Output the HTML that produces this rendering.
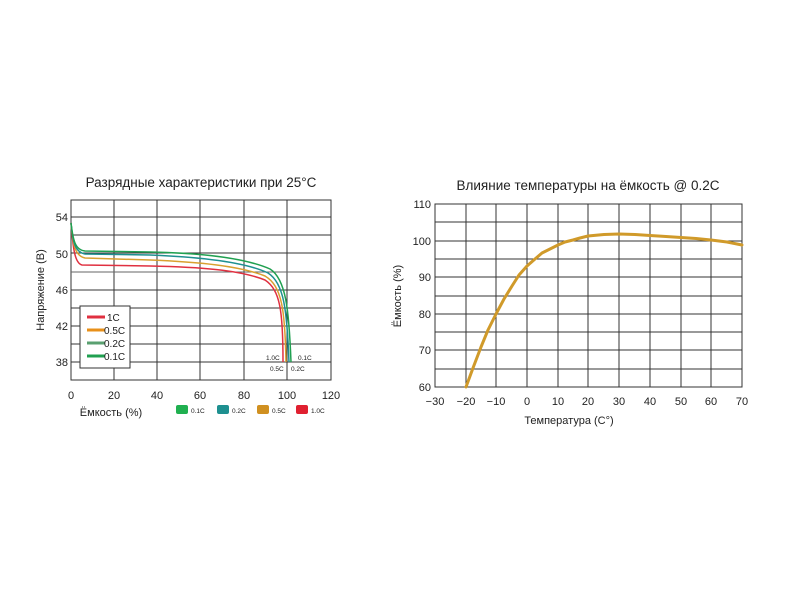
<!DOCTYPE html>
<html><head><meta charset="utf-8"><style>
body{margin:0;background:#fff;}
svg text{font-family:"Liberation Sans",sans-serif;fill:#222;}
</style></head><body>
<svg width="800" height="600" xmlns="http://www.w3.org/2000/svg">
<!-- LEFT CHART -->
<text x="201" y="187" font-size="13.5" text-anchor="middle">Разрядные характеристики при 25°C</text>
<g stroke="#333" stroke-width="1" fill="none">
<rect x="71" y="200" width="260" height="180"/>
<line x1="114" y1="200" x2="114" y2="380"/><line x1="157" y1="200" x2="157" y2="380"/>
<line x1="200" y1="200" x2="200" y2="380"/><line x1="244" y1="200" x2="244" y2="380"/>
<line x1="287" y1="200" x2="287" y2="380"/>
<line x1="71" y1="217" x2="331" y2="217"/><line x1="71" y1="235" x2="331" y2="235"/>
<line x1="71" y1="253" x2="331" y2="253"/><line x1="71" y1="272" x2="331" y2="272" stroke="#666"/>
<line x1="71" y1="290" x2="331" y2="290"/><line x1="71" y1="308" x2="331" y2="308"/>
<line x1="71" y1="326" x2="331" y2="326"/><line x1="71" y1="344" x2="331" y2="344"/>
<line x1="71" y1="362" x2="331" y2="362"/>
</g>
<g fill="none" stroke-width="1.5">
<path d="M71,223 C73,245 74,263 82,265 L150,266 C200,267 240,270 265,280 C280,290 283,310 283,362" stroke="#e03040"/>
<path d="M71,223 C73,245 75,256 85,258 L150,260 C200,262 240,266 265,276 C282,286 285,310 286,362" stroke="#d9a030"/>
<path d="M71,223 C73,243 75,252 85,254 L150,255 C200,257 245,262 268,273 C284,283 287,310 289,362" stroke="#1e9090"/>
<path d="M71,223 C73,240 75,250 85,251 L150,252 C200,253 245,258 270,269 C286,279 289,310 291,362" stroke="#20a050"/>
</g>
<g font-size="11" text-anchor="end"><text x="68" y="221">54</text><text x="68" y="258">50</text><text x="68" y="294">46</text><text x="68" y="330">42</text><text x="68" y="366">38</text></g>
<g font-size="11" text-anchor="middle"><text x="71" y="399">0</text><text x="114" y="399">20</text><text x="157" y="399">40</text><text x="200" y="399">60</text><text x="244" y="399">80</text><text x="287" y="399">100</text><text x="331" y="399">120</text></g>
<text x="111" y="416" font-size="11" text-anchor="middle">Ёмкость (%)</text>
<text transform="translate(44,290) rotate(-90)" font-size="11" text-anchor="middle">Напряжение (В)</text>
<rect x="80" y="306" width="50" height="62" fill="#fff" stroke="#333"/>
<g stroke-width="3"><line x1="87" y1="317" x2="105" y2="317" stroke="#e03040"/><line x1="87" y1="330" x2="105" y2="330" stroke="#e8901a"/><line x1="87" y1="343" x2="105" y2="343" stroke="#5aa070"/><line x1="87" y1="356" x2="105" y2="356" stroke="#20a050"/></g>
<g font-size="10"><text x="107" y="321">1C</text><text x="104" y="334">0.5C</text><text x="104" y="347">0.2C</text><text x="104" y="360">0.1C</text></g>
<g font-size="6.5"><text x="266" y="360">1.0C</text><text x="298" y="360">0.1C</text><text x="270" y="371">0.5C</text><text x="291" y="371">0.2C</text></g>
<rect x="176" y="405" width="12" height="9" rx="2" fill="#20b050"/><text x="191" y="413" font-size="6.5">0.1C</text>
<rect x="217" y="405" width="12" height="9" rx="2" fill="#1e9090"/><text x="232" y="413" font-size="6.5">0.2C</text>
<rect x="257" y="405" width="12" height="9" rx="2" fill="#d09020"/><text x="272" y="413" font-size="6.5">0.5C</text>
<rect x="296" y="405" width="12" height="9" rx="2" fill="#e02030"/><text x="311" y="413" font-size="6.5">1.0C</text>
<!-- RIGHT CHART -->
<text x="588" y="190" font-size="13.5" text-anchor="middle">Влияние температуры на ёмкость @ 0.2C</text>
<g stroke="#333" stroke-width="1" fill="none">
<rect x="435" y="204" width="307" height="183"/>
<line x1="466" y1="204" x2="466" y2="387"/><line x1="496" y1="204" x2="496" y2="387"/><line x1="527" y1="204" x2="527" y2="387"/><line x1="558" y1="204" x2="558" y2="387"/><line x1="588" y1="204" x2="588" y2="387"/><line x1="619" y1="204" x2="619" y2="387"/><line x1="650" y1="204" x2="650" y2="387"/><line x1="681" y1="204" x2="681" y2="387"/><line x1="711" y1="204" x2="711" y2="387"/>
<line x1="435" y1="222" x2="742" y2="222"/><line x1="435" y1="241" x2="742" y2="241"/><line x1="435" y1="259" x2="742" y2="259"/><line x1="435" y1="277" x2="742" y2="277"/><line x1="435" y1="296" x2="742" y2="296"/><line x1="435" y1="314" x2="742" y2="314"/><line x1="435" y1="332" x2="742" y2="332"/><line x1="435" y1="350" x2="742" y2="350"/><line x1="435" y1="369" x2="742" y2="369"/>
</g>
<polyline points="466,387 473,368 481,347 488,330 496,314 504,299 512,286 519,275 527,266 535,259 542,253 550,249 558,245 565,242 573,240 580,238 588,236 604,234.5 619,234 635,234.5 650,235.5 666,236.5 681,237.5 696,238.5 711,240 727,242 742,245" fill="none" stroke="#d09a2a" stroke-width="3" stroke-linejoin="round" stroke-linecap="round"/>
<g font-size="11" text-anchor="end"><text x="431" y="208">110</text><text x="431" y="245">100</text><text x="431" y="281">90</text><text x="431" y="318">80</text><text x="431" y="354">70</text><text x="431" y="391">60</text></g>
<g font-size="11" text-anchor="middle"><text x="435" y="405">−30</text><text x="466" y="405">−20</text><text x="496" y="405">−10</text><text x="527" y="405">0</text><text x="558" y="405">10</text><text x="588" y="405">20</text><text x="619" y="405">30</text><text x="650" y="405">40</text><text x="681" y="405">50</text><text x="711" y="405">60</text><text x="742" y="405">70</text></g>
<text x="569" y="424" font-size="11" text-anchor="middle">Температура (C°)</text>
<text transform="translate(401,296) rotate(-90)" font-size="11" text-anchor="middle">Ёмкость (%)</text>
</svg>
</body></html>
